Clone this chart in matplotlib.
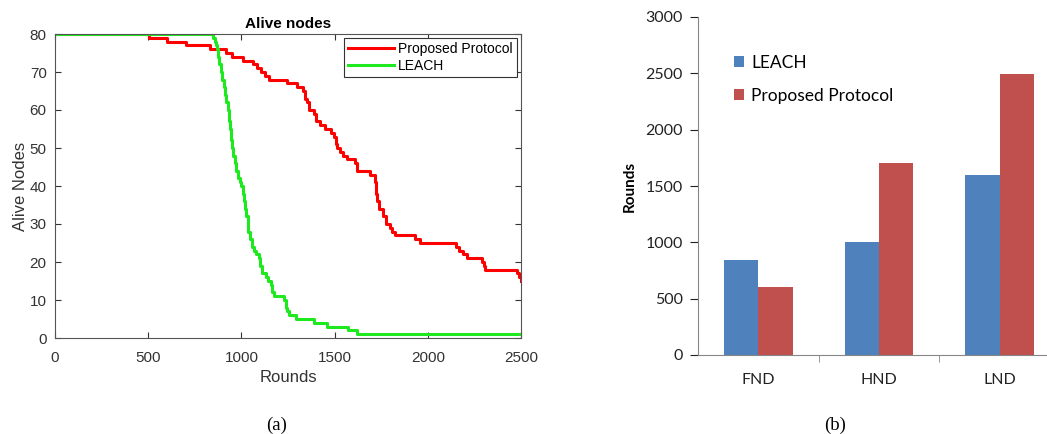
import numpy as np
import matplotlib
matplotlib.use("Agg")
import matplotlib.pyplot as plt

# (a) alive nodes per round (step data)
red_rounds = [0, 505, 600, 702, 832, 920, 948, 1010, 1060, 1085, 1105, 1125, 1150, 1243, 1297,
              1330, 1340, 1350, 1365, 1390, 1400, 1420, 1450, 1480, 1495, 1505, 1515, 1530, 1545,
              1565, 1610, 1618, 1690, 1717, 1722, 1728, 1740, 1760, 1775, 1795, 1810, 1825, 1930,
              1958, 2150, 2170, 2190, 2210, 2290, 2300, 2307, 2480, 2490, 2500]
red_nodes = [80, 79, 78, 77, 76, 75, 74, 73, 72, 71, 70, 69, 68, 67, 66,
             65, 63, 62, 60, 59, 57, 56, 55, 54, 53, 51, 50, 49, 48,
             47, 46, 44, 43, 41, 38, 36, 34, 32, 30, 29, 28, 27, 26,
             25, 24, 23, 22, 21, 20, 19, 18, 17, 16, 15]

green_rounds = [0, 846, 856, 862, 868, 874, 880, 888, 896, 904, 912, 920, 926, 932, 938, 944,
                950, 956, 964, 972, 980, 992, 1000, 1006, 1013, 1020, 1027, 1033, 1038, 1046,
                1056, 1067, 1080, 1094, 1102, 1112, 1130, 1145, 1158, 1165, 1176, 1228, 1238,
                1245, 1257, 1293, 1390, 1460, 1570, 1620, 2500]
green_nodes = [80, 79, 78, 77, 76, 74, 72, 70, 68, 66, 64, 62, 60, 57, 55, 52,
               50, 48, 46, 44, 42, 41, 40, 38, 36, 34, 32, 30, 28, 26,
               24, 23, 22, 21, 19, 17, 16, 15, 14, 12, 11, 10, 8,
               7, 6, 5, 4, 3, 2, 1, 1]

# (b) FND / HND / LND
categories = ["FND", "HND", "LND"]
leach_vals = [840, 1000, 1600]
proposed_vals = [600, 1700, 2490]

W, H = 1047, 434
fig = plt.figure(figsize=(W / 100, H / 100), dpi=100)

# ---- left: MATLAB style line chart ----
ax1 = fig.add_axes([55 / W, 1 - 338 / H, 466 / W, 304 / H])
ax1.plot(red_rounds, red_nodes, drawstyle="steps-post", color="#ff0000", lw=2.2,
         label="Proposed Protocol")
ax1.plot(green_rounds, green_nodes, drawstyle="steps-post", color="#1ee81e", lw=2.2,
         label="LEACH")
ax1.set_xlim(0, 2500)
ax1.set_ylim(0, 80)
ax1.set_xticks(np.arange(0, 2501, 500))
ax1.set_yticks(np.arange(0, 81, 10))
ax1.tick_params(direction="in", top=True, right=True, length=4, labelsize=11,
                colors="#333333", pad=6)
ax1.tick_params(axis="x", pad=9)
for s in ax1.spines.values():
    s.set_color("#555555")
    s.set_linewidth(0.8)
mfont = "Liberation Sans"
for lab in ax1.get_xticklabels() + ax1.get_yticklabels():
    lab.set_family(mfont)
ax1.set_title("Alive nodes", fontsize=11, fontweight="bold", family=mfont, pad=4)
ax1.set_xlabel("Rounds", fontsize=12, family=mfont, color="#333333", labelpad=4)
ax1.set_ylabel("Alive Nodes", fontsize=12, family=mfont, color="#333333", labelpad=1)
leg = ax1.legend(loc="upper right", prop={"family": mfont, "size": 10}, fancybox=False,
                 framealpha=1, edgecolor="#333333", handlelength=3.3, borderpad=0.3,
                 labelspacing=0.2, handletextpad=0.3, borderaxespad=0.3)
leg.get_frame().set_linewidth(0.8)

# ---- right: Excel style bar chart ----
ax2 = fig.add_axes([698 / W, 1 - 355 / H, 362 / W, 338 / H])
x = np.arange(len(categories))
bw = 0.285
ax2.bar(x - bw / 2, leach_vals, bw, color="#4f81bd", label="LEACH")
ax2.bar(x + bw / 2, proposed_vals, bw, color="#c0504d", label="Proposed Protocol")
ax2.set_xlim(-0.5, 2.5)
ax2.set_ylim(0, 3000)
ax2.set_yticks(np.arange(0, 3001, 500))
ax2.set_xticks(x)
ax2.set_xticklabels(categories)
ax2.set_xticks([0.5, 1.5], minor=True)
ax2.tick_params(axis="x", which="major", length=0, pad=13)
ax2.tick_params(axis="x", which="minor", length=5, color="#868686")
ax2.tick_params(axis="y", length=6, color="#868686", pad=5)
ax2.tick_params(labelsize=11.5, colors="#222222")
ax2.tick_params(axis="x", which="minor", colors="#868686")
bfont = "Lato"
for lab in ax2.get_xticklabels() + ax2.get_yticklabels():
    lab.set_family(bfont)
for side in ["top", "right"]:
    ax2.spines[side].set_visible(False)
for side in ["left", "bottom"]:
    ax2.spines[side].set_color("#868686")
ax2.set_ylabel("Rounds", fontsize=11, fontweight="bold", family=bfont, labelpad=6)
ax2.legend(loc="upper left", bbox_to_anchor=(0.055, 0.935), frameon=False,
           prop={"family": bfont, "size": 12.5}, handlelength=0.6, handleheight=0.6,
           handletextpad=0.4, labelspacing=1.0)

# captions
fig.text(277 / W, 1 - 425 / H, "(a)", ha="center", va="center", fontsize=13.5,
         family="Liberation Serif")
fig.text(835 / W, 1 - 425 / H, "(b)", ha="center", va="center", fontsize=13.5,
         family="Liberation Serif")

fig.savefig("out.png", dpi=100)
